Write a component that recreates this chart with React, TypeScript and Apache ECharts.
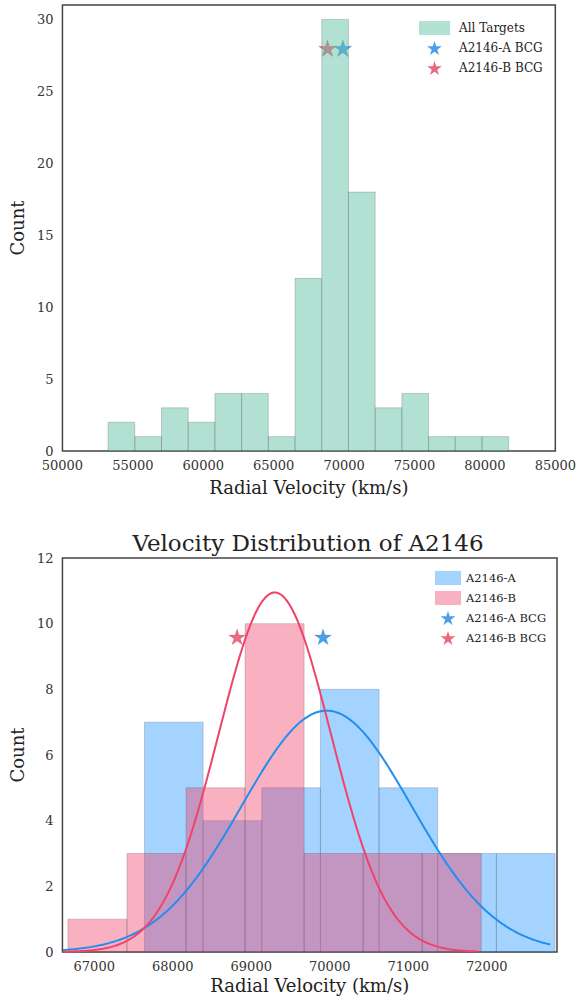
import React, { useEffect, useRef } from "react";
import * as echarts from "echarts";

// ---- Top panel: all targets histogram ----
const topCounts = [2, 1, 3, 2, 4, 4, 1, 12, 30, 18, 3, 4, 1, 1, 1];
const topBinRange = [53240, 81690];
const topXTicks = [50000, 85000, 5000];
const topYMax = 31;

// ---- BCG velocities ----
const bcgA = 69915;
const bcgB = 68820;
const topStarY = 28;
const bottomStarY = 9.6;

// ---- Bottom panel: subclusters ----
const countsA = [7, 4, 5, 8, 5, 3, 3];
const rangeA = [67640, 72870];
const countsB = [1, 3, 5, 10, 3, 3, 3];
const rangeB = [66665, 71930];
const bottomXRange = [66595, 72895];
const bottomYMax = 12;

// Gaussian fits: [mean, sigma, peak height, curve start, curve end]
const fitA = [69960, 1080, 7.35, 66600, 72810];
const fitB = [69300, 715, 10.95, 66600, 71880];

const FONT = "'DejaVu Serif', 'Liberation Serif', serif";
const BLUE = "#1e88e5";
const RED = "#e8435e";
const STAR =
  "path://M0,-100 L22.4,-30.8 L95.1,-30.9 L36.2,11.8 L58.8,80.9 L0,38.1 L-58.8,80.9 L-36.2,11.8 L-95.1,-30.9 L-22.4,-30.8 Z";

function makeBins(counts: number[], range: number[]) {
  const w = (range[1] - range[0]) / counts.length;
  return counts.map((c, i) => [range[0] + i * w, range[0] + (i + 1) * w, c]);
}

function gaussCurve(fit: number[]) {
  const [mu, sigma, peak, lo, hi] = fit;
  const n = 240;
  const pts: number[][] = [];
  for (let i = 0; i <= n; i++) {
    const x = lo + ((hi - lo) * i) / n;
    pts.push([x, peak * Math.exp(-0.5 * ((x - mu) / sigma) ** 2)]);
  }
  return pts;
}

function histRender(fill: string, stroke: string) {
  return (params: any, api: any) => {
    const x0 = api.value(0);
    const x1 = api.value(1);
    const c = api.value(2);
    const p0 = api.coord([x0, c]);
    const p1 = api.coord([x1, 0]);
    return {
      type: "rect",
      shape: { x: p0[0], y: p0[1], width: p1[0] - p0[0], height: p1[1] - p0[1] },
      style: { fill, stroke, lineWidth: 1 },
    };
  };
}

const labelStyle = { fontFamily: FONT, fontSize: 13, color: "#333" };
const nameStyle = { fontFamily: FONT, fontSize: 18, color: "#222" };
const plain = (v: number) => String(v);

export default function App() {
  const ref = useRef<HTMLDivElement>(null);
  useEffect(() => {
    if (!ref.current) return;
    const chart = echarts.init(ref.current, null, { renderer: "svg" });
    const greenFill = "rgba(102,194,165,0.5)";
    const blueFill = "rgba(30,144,255,0.4)";
    const redFill = "rgba(240,60,100,0.4)";
    const edge = "rgba(60,60,60,0.22)";
    const starStyle = (c: string) => ({ color: c, borderColor: "rgba(0,0,0,0.2)", borderWidth: 0.5 });
    const option: any = {
      animation: false,
      backgroundColor: "#fff",
      graphic: [
        {
          type: "text",
          x: 308,
          y: 543,
          style: {
            text: "Velocity Distribution of A2146",
            fontFamily: FONT,
            fontSize: 23,
            fill: "#222",
            textAlign: "center",
            textVerticalAlign: "middle",
          },
        },
      ],
      grid: [
        { left: 60, right: 22, top: 5, height: 446, show: true, borderColor: "#444", borderWidth: 1.5 },
        { left: 60, right: 22, top: 558, height: 394, show: true, borderColor: "#444", borderWidth: 1.5 },
      ],
      legend: [
        {
          orient: "vertical",
          left: 414,
          top: 16,
          itemWidth: 31,
          itemHeight: 14,
          itemGap: 6,
          selectedMode: false,
          textStyle: { fontFamily: FONT, fontSize: 12, color: "#222", padding: [0, 0, 0, 4] },
          data: [
            { name: "All Targets", icon: "rect", itemStyle: { color: greenFill, borderWidth: 0 } },
            { name: "A2146-A BCG", icon: STAR, itemStyle: { color: BLUE, borderWidth: 0 } },
            { name: "A2146-B BCG", icon: STAR, itemStyle: { color: RED, borderWidth: 0 } },
          ],
        },
        {
          orient: "vertical",
          left: 430,
          top: 566,
          itemWidth: 26,
          itemHeight: 14,
          itemGap: 6,
          selectedMode: false,
          textStyle: { fontFamily: FONT, fontSize: 11.5, color: "#222" },
          data: [
            { name: "A2146-A", icon: "rect", itemStyle: { color: blueFill, borderWidth: 0 } },
            { name: "A2146-B", icon: "rect", itemStyle: { color: redFill, borderWidth: 0 } },
            { name: "A2146-A BCG", icon: STAR, itemStyle: { color: BLUE, borderWidth: 0 } },
            { name: "A2146-B BCG", icon: STAR, itemStyle: { color: RED, borderWidth: 0 } },
          ],
        },
      ],
      xAxis: [
        {
          gridIndex: 0,
          type: "value",
          min: topXTicks[0],
          max: topXTicks[1],
          interval: topXTicks[2],
          axisLine: { show: false },
          axisTick: { show: false },
          splitLine: { show: false },
          axisLabel: { ...labelStyle, margin: 8, formatter: plain },
          name: "Radial Velocity (km/s)",
          nameLocation: "middle",
          nameGap: 27,
          nameTextStyle: nameStyle,
        },
        {
          gridIndex: 1,
          type: "value",
          min: bottomXRange[0],
          max: bottomXRange[1],
          axisLine: { show: false },
          axisTick: { show: false },
          splitLine: { show: false },
          axisLabel: {
            ...labelStyle,
            margin: 8,
            showMinLabel: false,
            showMaxLabel: false,
            formatter: (v: number) => (v % 1000 === 0 ? String(v) : ""),
          },
          name: "Radial Velocity (km/s)",
          nameLocation: "middle",
          nameGap: 24,
          nameTextStyle: nameStyle,
        },
      ],
      yAxis: [
        {
          gridIndex: 0,
          type: "value",
          min: 0,
          max: topYMax,
          interval: 5,
          axisLine: { show: false },
          axisTick: { show: false },
          splitLine: { show: false },
          axisLabel: { ...labelStyle, margin: 9, showMaxLabel: false, formatter: plain },
          name: "Count",
          nameLocation: "middle",
          nameGap: 35,
          nameTextStyle: nameStyle,
        },
        {
          gridIndex: 1,
          type: "value",
          min: 0,
          max: bottomYMax,
          interval: 2,
          axisLine: { show: false },
          axisTick: { show: false },
          splitLine: { show: false },
          axisLabel: { ...labelStyle, margin: 9, formatter: plain },
          name: "Count",
          nameLocation: "middle",
          nameGap: 35,
          nameTextStyle: nameStyle,
        },
      ],
      series: [
        {
          type: "scatter",
          name: "A2146-A BCG",
          xAxisIndex: 0,
          yAxisIndex: 0,
          z: 1,
          symbol: STAR,
          symbolSize: [18, 17],
          itemStyle: starStyle(BLUE),
          data: [[bcgA, topStarY]],
        },
        {
          type: "scatter",
          name: "A2146-B BCG",
          xAxisIndex: 0,
          yAxisIndex: 0,
          z: 1,
          symbol: STAR,
          symbolSize: [18, 17],
          itemStyle: starStyle(RED),
          data: [[bcgB, topStarY]],
        },
        {
          type: "custom",
          name: "All Targets",
          xAxisIndex: 0,
          yAxisIndex: 0,
          z: 3,
          itemStyle: { color: greenFill },
          encode: { x: [0, 1], y: 2 },
          renderItem: histRender(greenFill, edge),
          data: makeBins(topCounts, topBinRange),
        },
        {
          type: "custom",
          name: "A2146-A",
          xAxisIndex: 1,
          yAxisIndex: 1,
          z: 2,
          itemStyle: { color: blueFill },
          encode: { x: [0, 1], y: 2 },
          renderItem: histRender(blueFill, edge),
          data: makeBins(countsA, rangeA),
        },
        {
          type: "custom",
          name: "A2146-B",
          xAxisIndex: 1,
          yAxisIndex: 1,
          z: 3,
          itemStyle: { color: redFill },
          encode: { x: [0, 1], y: 2 },
          renderItem: histRender(redFill, edge),
          data: makeBins(countsB, rangeB),
        },
        {
          type: "line",
          name: "fitA",
          xAxisIndex: 1,
          yAxisIndex: 1,
          z: 4,
          showSymbol: false,
          lineStyle: { color: "#1f8ff0", width: 2 },
          itemStyle: { color: "#1f8ff0" },
          data: gaussCurve(fitA),
        },
        {
          type: "line",
          name: "fitB",
          xAxisIndex: 1,
          yAxisIndex: 1,
          z: 4,
          showSymbol: false,
          lineStyle: { color: "#f0436a", width: 2 },
          itemStyle: { color: "#f0436a" },
          data: gaussCurve(fitB),
        },
        {
          type: "scatter",
          name: "A2146-A BCG",
          xAxisIndex: 1,
          yAxisIndex: 1,
          z: 5,
          symbol: STAR,
          symbolSize: [17, 16],
          itemStyle: starStyle(BLUE),
          data: [[bcgA, bottomStarY]],
        },
        {
          type: "scatter",
          name: "A2146-B BCG",
          xAxisIndex: 1,
          yAxisIndex: 1,
          z: 5,
          symbol: STAR,
          symbolSize: [17, 16],
          itemStyle: starStyle(RED),
          data: [[bcgB, bottomStarY]],
        },
      ],
    };
    chart.setOption(option);
    return () => chart.dispose();
  }, []);
  return (
    <div
      ref={ref}
      style={{ position: "fixed", left: 0, top: 0, width: 579, height: 997, background: "#fff" }}
    />
  );
}
